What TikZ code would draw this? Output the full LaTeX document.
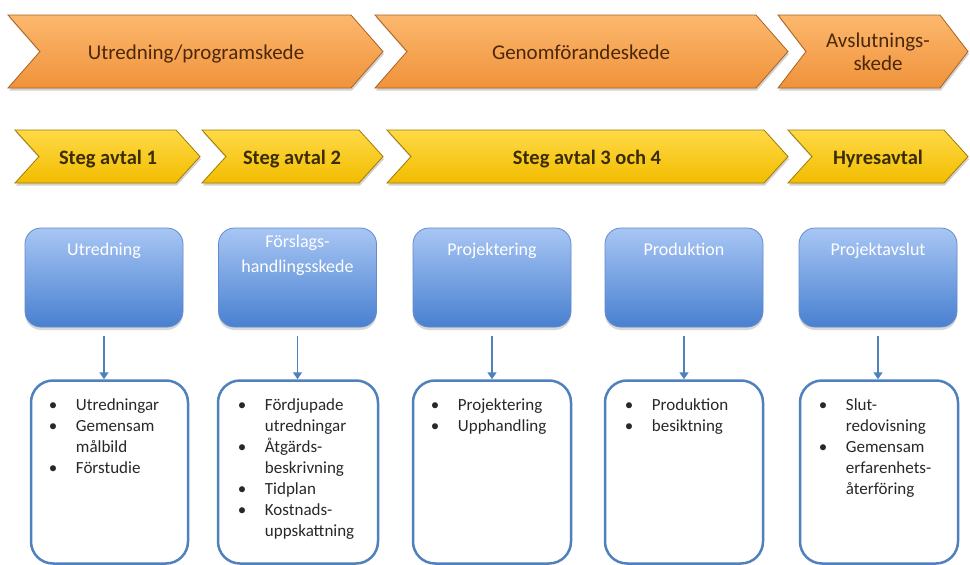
\documentclass[tikz,border=0pt]{standalone}
\usepackage{fontspec}
\setmainfont{Carlito}
\usetikzlibrary{shadows,arrows.meta}
\definecolor{orTop}{RGB}{252,184,110}
\definecolor{orBot}{RGB}{240,146,58}
\definecolor{orEdge}{RGB}{170,98,35}
\definecolor{yeTop}{RGB}{255,218,70}
\definecolor{yeBot}{RGB}{242,188,0}
\definecolor{yeEdge}{RGB}{160,122,0}
\definecolor{blTop}{RGB}{168,198,244}
\definecolor{blMid}{RGB}{125,168,232}
\definecolor{blBot}{RGB}{72,128,208}
\definecolor{blEdge}{RGB}{100,140,205}
\definecolor{lnBlue}{RGB}{79,129,189}
\definecolor{orText}{RGB}{75,40,10}
\definecolor{yeText}{RGB}{60,45,0}
\definecolor{txt}{RGB}{40,40,40}
\newcommand\chev[6]{\path[#6] (#1,#3) -- ({#2-#5},#3) -- (#2,{(#3+#4)/2}) -- ({#2-#5},#4) -- (#1,#4) -- ({#1+#5},{(#3+#4)/2}) -- cycle;}
\begin{document}
\begin{tikzpicture}[x=1pt,y=-1pt,
  orch/.style={top color=orTop,bottom color=orBot,draw=orEdge,line width=0.8pt,
    drop shadow={shadow xshift=1pt,shadow yshift=-2.5pt,opacity=.35}},
  yech/.style={top color=yeTop,bottom color=yeBot,draw=yeEdge,line width=0.8pt,
    drop shadow={shadow xshift=1pt,shadow yshift=-2.5pt,opacity=.35}},
  toptext/.style={font=\fontsize{21}{23}\selectfont,text=orText,inner sep=0pt,anchor=base},
  steptext/.style={font=\bfseries\fontsize{20.5}{23}\selectfont,text=yeText,inner sep=0pt,anchor=base},
  bluebox/.style={top color=blTop,middle color=blMid,bottom color=blBot,draw=blEdge,line width=0.8pt,
    rounded corners=16pt,minimum width=158pt,minimum height=99pt,inner sep=0pt,
    drop shadow={shadow xshift=0pt,shadow yshift=-3pt,opacity=.3}},
  bluetext/.style={font=\fontsize{18}{25}\selectfont,text=white,inner sep=0pt,anchor=base},
  lowbox/.style={draw=lnBlue,line width=2.5pt,fill=white,rounded corners=22pt,
    minimum height=183pt,inner sep=0pt},
  listtext/.style={font=\fontsize{17}{21}\selectfont,text=txt,inner sep=0pt,anchor=base west},
  arr/.style={draw=lnBlue,line width=1.5pt,-{Triangle[width=9pt,length=7pt]},shorten <=9pt}
]
\useasboundingbox[fill=white] (0,0) rectangle (970,565);
% top row
\chev{8}{383}{15}{88}{32}{orch}
\chev{375}{788}{15}{88}{32}{orch}
\chev{778}{968}{15}{88}{28}{orch}
\node[toptext] (p1) at (196,59) {Utredning/programskede};
\node[toptext] (p2) at (581,59) {Genomförandeskede};
\node[toptext] (p3) at (878,47) {\begin{tabular}[t]{@{}c@{}}Avslutnings-\\skede\end{tabular}};
% second row
\chev{15}{200}{130}{183}{24}{yech}
\chev{202}{383}{130}{183}{24}{yech}
\chev{387}{788}{130}{183}{24}{yech}
\chev{788}{968}{130}{183}{24}{yech}
\node[steptext] (s1) at (108,164) {Steg avtal 1};
\node[steptext] (s2) at (292,164) {Steg avtal 2};
\node[steptext] (s3) at (587,164) {Steg avtal 3 och 4};
\node[steptext] (s4) at (878,164) {Hyresavtal};
% blue boxes
\node[bluebox] (b1) at (104,277.5) {};
\node[bluebox] (b2) at (297.5,277.5) {};
\node[bluebox] (b3) at (492,277.5) {};
\node[bluebox] (b4) at (684,277.5) {};
\node[bluebox] (b5) at (878,277.5) {};
\node[bluetext] (t1) at ([yshift=-28pt]b1.north) {Utredning};
\node[bluetext] (t2) at ([yshift=-20pt]b2.north) {\begin{tabular}[t]{@{}c@{}}Förslags-\\handlingsskede\end{tabular}};
\node[bluetext] (t3) at ([yshift=-28pt]b3.north) {Projektering};
\node[bluetext] (t4) at ([yshift=-28pt]b4.north) {Produktion};
\node[bluetext] (t5) at ([yshift=-28pt]b5.north) {Projektavslut};
% lower boxes
\node[lowbox,minimum width=157pt] (l1) at (109.5,472) {};
\node[lowbox,minimum width=160pt] (l2) at (298,472) {};
\node[lowbox,minimum width=158pt] (l3) at (492,472) {};
\node[lowbox,minimum width=158pt] (l4) at (684,472) {};
\node[lowbox,minimum width=158pt] (l5) at (879,472) {};
\node[listtext] (x1) at ([xshift=19pt,yshift=-31pt]l1.north west) {\begin{tabular}[t]{@{}p{27pt}@{}l@{}}\textbullet & Utredningar\\ \textbullet & Gemensam\\ & målbild\\ \textbullet & Förstudie\end{tabular}};
\node[listtext] (x2) at ([xshift=21pt,yshift=-31pt]l2.north west) {\begin{tabular}[t]{@{}p{27pt}@{}l@{}}\textbullet & Fördjupade\\ & utredningar\\ \textbullet & Åtgärds-\\ & beskrivning\\ \textbullet & Tidplan\\ \textbullet & Kostnads-\\ & uppskattning\end{tabular}};
\node[listtext] (x3) at ([xshift=19pt,yshift=-31pt]l3.north west) {\begin{tabular}[t]{@{}p{27pt}@{}l@{}}\textbullet & Projektering\\ \textbullet & Upphandling\end{tabular}};
\node[listtext] (x4) at ([xshift=21pt,yshift=-31pt]l4.north west) {\begin{tabular}[t]{@{}p{27pt}@{}l@{}}\textbullet & Produktion\\ \textbullet & besiktning\end{tabular}};
\node[listtext] (x5) at ([xshift=20pt,yshift=-31pt]l5.north west) {\begin{tabular}[t]{@{}p{27pt}@{}l@{}}\textbullet & Slut-\\ & redovisning\\ \textbullet & Gemensam\\ & erfarenhets-\\ & återföring\end{tabular}};
% arrows
\draw[arr] (b1.south) -- (b1.south |- l1.north);
\draw[arr] (b2.south) -- (b2.south |- l2.north);
\draw[arr] (b3.south) -- (b3.south |- l3.north);
\draw[arr] (b4.south) -- (b4.south |- l4.north);
\draw[arr] (b5.south) -- (b5.south |- l5.north);
\end{tikzpicture}
\end{document}
